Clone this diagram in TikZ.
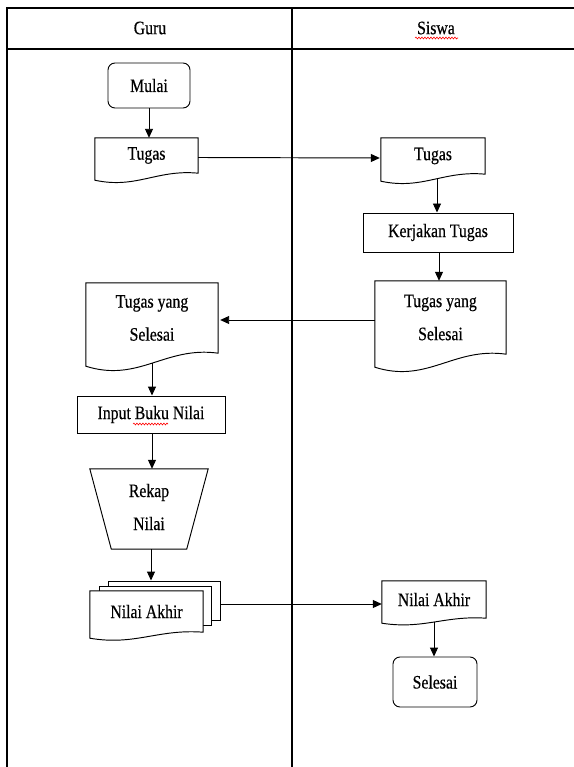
\documentclass[tikz,border=0pt]{standalone}
\usepackage{fontspec}
\setmainfont[FakeStretch=0.83,FakeBold=0.4]{Liberation Serif}
\usetikzlibrary{arrows.meta,calc,decorations.pathmorphing}
\pgfdeclarelayer{background}
\pgfsetlayers{background,main}

\tikzset{
  shp/.style={draw=black, line width=0.95pt, fill=white},
  lane/.style={draw=black, line width=1.6pt},
  txt/.style={inner sep=0pt, align=center, font=\fontsize{19}{33}\selectfont},
  box/.style={txt, shp, rectangle},
  term/.style={box, rounded corners=7pt},
  arr/.style={draw=black, line width=0.95pt, -{Triangle[length=9pt,width=8pt]}},
  squig/.style={draw=red, line width=0.6pt, decorate, decoration={snake, amplitude=0.9pt, segment length=3pt}}
}

% document outline: #1 node, #2 wave depth (pt)
\newcommand\docoutline[2]{%
  \draw[shp] let \p1=(#1.south west), \p2=(#1.south east), \n1={\x2-\x1} in
    (#1.south east) -- (#1.north east) -- (#1.north west) -- (\x1,\y1-#2pt)
    .. controls (\x1+0.4*\n1,\y1-#2pt*16/7) and (\x1+0.6*\n1,\y1+#2pt*4/7) .. (#1.south east) -- cycle;
}

\begin{document}
\begin{tikzpicture}[x=1pt,y=-1pt]
\useasboundingbox (0,0) rectangle (573,767);

% swimlane table
\draw[lane] (7,767) -- (7,8) -- (575,8);
\draw[lane] (7,49) -- (575,49);
\draw[lane] (292,8) -- (292,767);
\node[txt] (hguru) at (150,28) {Guru};
\node[txt] (hsiswa) at (436,28) {Siswa};

% nodes
\node[term, minimum width=82pt, minimum height=45pt] (mulai) at (149,85.5) {Mulai};
\node[txt, minimum width=103pt, minimum height=35pt] (tugasG) at (146.5,155.5) {Tugas};
\node[txt, minimum width=104pt, minimum height=36pt] (tugasS) at (433,156) {Tugas};
\node[box, minimum width=150pt, minimum height=39pt] (kerjakan) at (438,232.5) {Kerjakan Tugas};
\node[txt, minimum width=131pt, minimum height=73pt] (tysS) at (440.5,317.5) {Tugas yang\\Selesai};
\node[txt, minimum width=132pt, minimum height=70pt] (tysG) at (152,318) {Tugas yang\\Selesai};
\node[box, minimum width=148pt, minimum height=37pt] (input) at (151,414.5) {Input Buku Nilai};
\node[txt, minimum width=118pt, minimum height=80pt] (rekap) at (149,507) {Rekap\\Nilai};
\node[txt, minimum width=113pt, minimum height=41pt] (front) at (146.5,611.5) {Nilai Akhir};
\node[txt, minimum width=104pt, minimum height=37pt] (nilaiS) at (434,599.5) {Nilai Akhir};
\node[term, minimum width=84pt, minimum height=50pt] (selesai) at (435,682) {Selesai};

% outlines behind text
\begin{pgfonlayer}{background}
  \docoutline{tugasG}{7}
  \docoutline{tugasS}{7}
  \docoutline{tysS}{13}
  \docoutline{tysG}{13}
  \docoutline{nilaiS}{5}
  \draw[shp] ($(rekap.north west)+(0,2)$) -- ($(rekap.north east)+(0,2)$)
     -- ($(rekap.south east)+(-21.5,2)$) -- ($(rekap.south west)+(21.5,2)$) -- cycle;
  \node[shp, minimum width=112pt, minimum height=39pt] (back2) at (164,600.5) {};
  \node[shp, minimum width=112pt, minimum height=39pt] (back1) at (155,605.5) {};
  \docoutline{front}{6}
\end{pgfonlayer}

% connectors
\draw[arr] (mulai.south) -- (mulai.south |- tugasG.north);
\draw[arr] ($(tugasG.east)+(0,2)$) -- ($(tugasS.west)+(-1,2)$);
\draw[arr] ($(tugasS.south)+(4,5)$) -- ($(kerjakan.north)+(-1,0)$);
\draw[arr] ($(kerjakan.south)+(1,0)$) -- ($(kerjakan.south |- tysS.north)+(1,0)$);
\draw[arr] ($(tysS.west)+(0,2.5)$) -- ($(tysG.east)+(2,2)$);
\draw[arr] ($(tysG.south)+(0,10)$) -- (tysG.south |- input.north);
\draw[arr] ($(input.south)+(1,0)$) -- ($(input.south |- rekap.north)+(1,2)$);
\draw[arr] ($(rekap.south)+(2,2)$) -- ($(rekap.south |- back2.north)+(2,0)$);
\draw[arr] ($(back2.east)+(0,3.5)$) -- ($(nilaiS.west)+(0,4.5)$);
\draw[arr] ($(nilaiS.south)+(0,4)$) -- (nilaiS.south |- selesai.north);

% spell-check marks
\draw[squig] (415,38) -- (458,38);
\draw[squig] (133,424) -- (168,424);
\end{tikzpicture}
\end{document}
